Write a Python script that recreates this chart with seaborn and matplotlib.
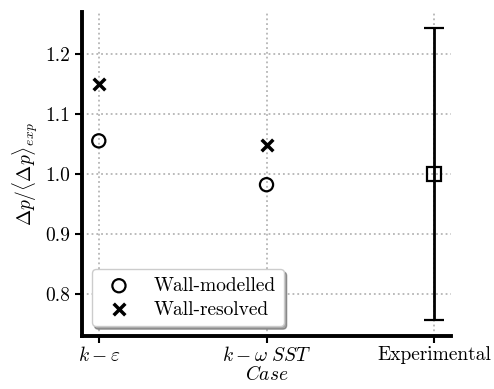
import numpy as np
import pandas as pd
import seaborn as sns
import matplotlib.pyplot as plt

cases = [r"$k-\varepsilon$", r"$k-\omega\ SST$", "Experimental"]
wall_modelled = [1.055, 0.982]
wall_resolved = [1.150, 1.048]
exp_value = [1.0]
exp_err = [0.243]

sns.set_style("ticks")
plt.rcParams["font.family"] = "serif"
plt.rcParams["font.serif"] = ["cmr10", "DejaVu Serif"]
plt.rcParams["mathtext.fontset"] = "cm"
plt.rcParams["axes.formatter.use_mathtext"] = True
plt.rcParams["axes.unicode_minus"] = False
for k in ["text.color", "axes.labelcolor", "xtick.color", "ytick.color", "axes.edgecolor"]:
    plt.rcParams[k] = "black"

fig, ax = plt.subplots(figsize=(4.94, 3.89), dpi=100)

x = np.arange(len(cases))
df_mod = pd.DataFrame({"x": x[:2], "y": wall_modelled})
df_res = pd.DataFrame({"x": x[:2], "y": wall_resolved})

sns.scatterplot(data=df_mod, x="x", y="y", ax=ax, marker="o", s=90,
                facecolor="none", edgecolor="black", linewidth=1.6,
                label="Wall-modelled", zorder=3)
sns.scatterplot(data=df_res, x="x", y="y", ax=ax, marker="x", s=70,
                color="black", linewidth=2.5, label="Wall-resolved", zorder=3)
ax.errorbar(x[2:], exp_value, yerr=exp_err, fmt="s", mfc="none", mec="black",
            ms=10, mew=1.6, ecolor="black", elinewidth=2, capsize=7.5,
            capthick=2, color="black", zorder=3)

ax.set_xlim(-0.1, 2.1)
ax.set_ylim(0.73, 1.27)
ax.set_xticks(x)
ax.set_xticklabels(cases)
ax.set_yticks([0.8, 0.9, 1.0, 1.1, 1.2])
ax.set_yticklabels(["0.8", "0.9", "1.0", "1.1", "1.2"])
ax.tick_params(labelsize=14, width=1.5, length=5)
ax.tick_params(axis="x", pad=2)
ax.grid(True, linestyle=":", color="#b5b5b5", linewidth=1.3)
ax.set_axisbelow(True)
for s in ["left", "bottom"]:
    ax.spines[s].set_linewidth(2.8)
sns.despine(ax=ax)

ax.set_xlabel(r"$Case$", fontsize=14, labelpad=0)
ax.set_ylabel(r"$\Delta p/\langle\Delta p\rangle_{exp}$", fontsize=14)

leg = ax.legend(loc="lower left", fontsize=14, frameon=True, fancybox=True,
                shadow=True, borderpad=0.4, handletextpad=0.8,
                labelspacing=0.3)
leg.get_frame().set_edgecolor("#cccccc")

fig.subplots_adjust(left=0.166, right=0.913, top=0.97, bottom=0.136)
fig.savefig("out.png", dpi=100)
